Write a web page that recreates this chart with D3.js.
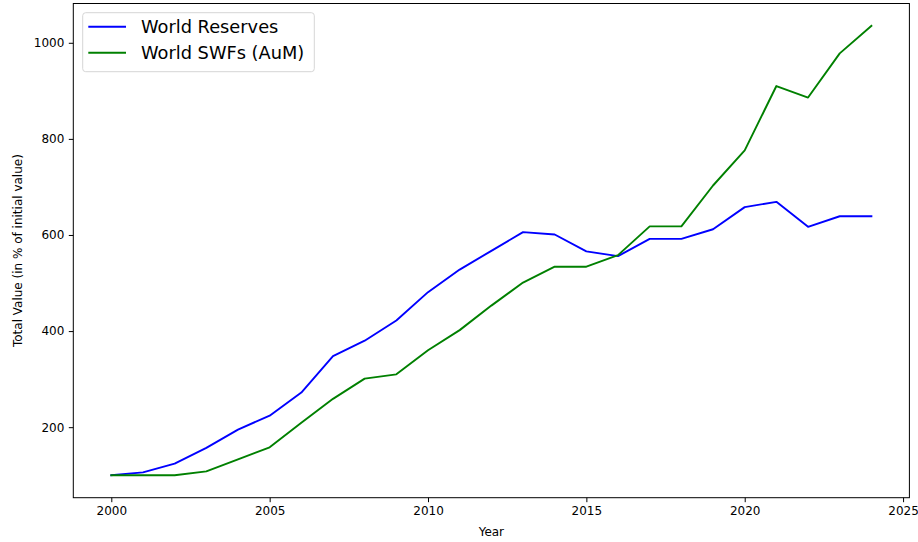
<!DOCTYPE html>
<html>
<head>
<meta charset="utf-8">
<script src="https://cdn.jsdelivr.net/npm/d3@7"></script>
<style>
  html, body { margin: 0; padding: 0; background: #fff; }
  svg { display: block; font-family: "DejaVu Sans", sans-serif; }
</style>
</head>
<body>
<svg id="chart" width="918" height="542"></svg>
<script>
// Growth of world reserves and sovereign wealth fund assets, indexed to 2000 = 100
const years = d3.range(2000, 2025);
const worldReserves = [100, 106, 124, 157, 195, 224, 272, 348, 380, 422, 481, 528, 567, 606, 601, 566, 556, 592, 592, 612, 658, 669, 617, 639, 639];
const worldSWFs = [100, 100, 100, 108, 133, 158, 209, 259, 301, 310, 360, 402, 453, 501, 534, 534, 558, 618, 618, 703, 776, 910, 886, 978, 1035];
const xTicks = [2000, 2005, 2010, 2015, 2020, 2025];
const yTicks = [200, 400, 600, 800, 1000];
const seriesNames = ["World Reserves", "World SWFs (AuM)"];
const seriesColors = ["#0000ff", "#008000"];

const svg = d3.select("#chart");
const plot = { left: 73.3, right: 909.4, top: 3.5, bottom: 497.7 };

// Padded domains, 5% on each side of the data extent
const xExt = d3.extent(years);
const xPad = (xExt[1] - xExt[0]) * 0.05;
const allVals = worldReserves.concat(worldSWFs);
const yExt = d3.extent(allVals);
const yPad = (yExt[1] - yExt[0]) * 0.05;

const x = d3.scaleLinear().domain([xExt[0] - xPad, xExt[1] + xPad]).range([plot.left, plot.right]);
const y = d3.scaleLinear().domain([yExt[0] - yPad, yExt[1] + yPad]).range([plot.bottom, plot.top]);

const fontSize = 12;

// Axes
const xAxis = svg.append("g")
  .attr("transform", `translate(0,${plot.bottom})`)
  .call(d3.axisBottom(x).tickValues(xTicks).tickFormat(d3.format("d")).tickSize(4.5).tickPadding(4.5));
const yAxis = svg.append("g")
  .attr("transform", `translate(${plot.left},0)`)
  .call(d3.axisLeft(y).tickValues(yTicks).tickFormat(d3.format("d")).tickSize(4.5).tickPadding(4.5));

[xAxis, yAxis].forEach(g => {
  g.select(".domain").remove();
  g.selectAll(".tick line").attr("stroke", "#000").attr("stroke-width", 1);
  g.selectAll(".tick text").attr("fill", "#000").style("font-size", fontSize + "px")
    .style("font-family", "'DejaVu Sans', sans-serif");
});

// Lines
const line = d3.line().x((d, i) => x(years[i])).y(d => y(d));
[worldReserves, worldSWFs].forEach((vals, k) => {
  svg.append("path")
    .datum(vals)
    .attr("fill", "none")
    .attr("stroke", seriesColors[k])
    .attr("stroke-width", 1.9)
    .attr("stroke-linejoin", "round")
    .attr("stroke-linecap", "square")
    .attr("d", line);
});

// Frame
svg.append("rect")
  .attr("x", plot.left).attr("y", plot.top)
  .attr("width", plot.right - plot.left).attr("height", plot.bottom - plot.top)
  .attr("fill", "none").attr("stroke", "#000").attr("stroke-width", 1);

// Axis titles
svg.append("text")
  .attr("x", (plot.left + plot.right) / 2).attr("y", 535.5)
  .attr("text-anchor", "middle").style("font-size", fontSize + "px")
  .text("Year");
svg.append("text")
  .attr("transform", `translate(22,${(plot.top + plot.bottom) / 2}) rotate(-90)`)
  .attr("text-anchor", "middle").style("font-size", fontSize + "px")
  .text("Total Value (in % of initial value)");

// Legend
const legend = svg.append("g");
legend.append("rect")
  .attr("x", 82.7).attr("y", 12.7).attr("width", 231.6).attr("height", 59)
  .attr("rx", 3).attr("fill", "#fff").attr("fill-opacity", 0.8)
  .attr("stroke", "#d6d6d6").attr("stroke-width", 1);
seriesNames.forEach((name, k) => {
  const cy = 26.7 + k * 26;
  legend.append("line")
    .attr("x1", 88.3).attr("x2", 126).attr("y1", cy).attr("y2", cy)
    .attr("stroke", seriesColors[k]).attr("stroke-width", 1.9);
  legend.append("text")
    .attr("x", 141).attr("y", cy).attr("dy", "0.36em")
    .style("font-size", "17.8px").attr("fill", "#000")
    .text(name);
});
</script>
</body>
</html>
